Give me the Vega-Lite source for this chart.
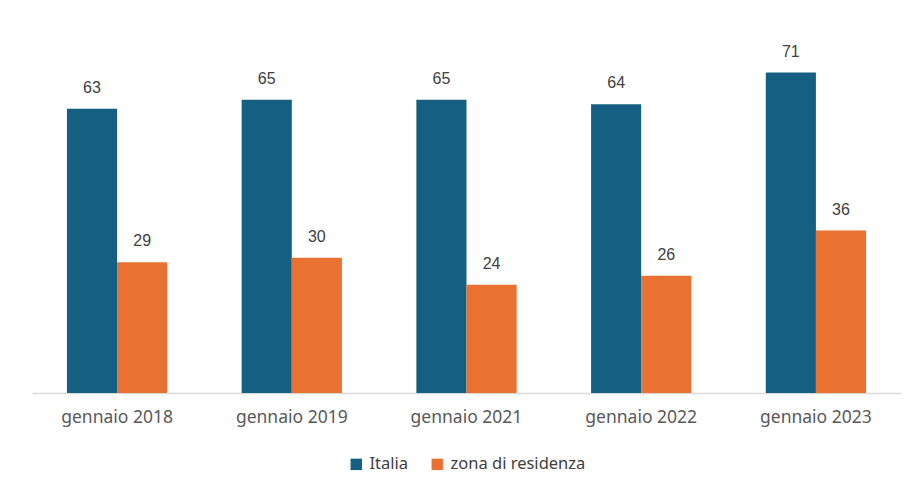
{
  "$schema": "https://vega.github.io/schema/vega-lite/v6.json",
  "autosize": {"type": "none"},
  "width": 869,
  "height": 361,
  "padding": {"left": 32, "top": 32, "right": 19, "bottom": 100},
  "background": "white",
  "data": {
    "values": [
      {"periodo": "gennaio 2018", "serie": "Italia", "valore": 63},
      {"periodo": "gennaio 2018", "serie": "zona di residenza", "valore": 29},
      {"periodo": "gennaio 2019", "serie": "Italia", "valore": 65},
      {"periodo": "gennaio 2019", "serie": "zona di residenza", "valore": 30},
      {"periodo": "gennaio 2021", "serie": "Italia", "valore": 65},
      {"periodo": "gennaio 2021", "serie": "zona di residenza", "valore": 24},
      {"periodo": "gennaio 2022", "serie": "Italia", "valore": 64},
      {"periodo": "gennaio 2022", "serie": "zona di residenza", "valore": 26},
      {"periodo": "gennaio 2023", "serie": "Italia", "valore": 71},
      {"periodo": "gennaio 2023", "serie": "zona di residenza", "valore": 36}
    ]
  },
  "encoding": {
    "x": {
      "field": "periodo",
      "type": "nominal",
      "sort": null,
      "scale": {"paddingInner": 0.426, "paddingOuter": 0.2},
      "axis": {
        "title": null,
        "labelAngle": 0,
        "ticks": false,
        "domainColor": "#d9d9d9",
        "domainWidth": 1.5,
        "labelFont": "Noto Sans",
        "labelFontSize": 17.5,
        "labelColor": "#595959",
        "labelPadding": 15
      }
    },
    "xOffset": {"field": "serie", "type": "nominal", "sort": ["Italia", "zona di residenza"]},
    "y": {
      "field": "valore",
      "type": "quantitative",
      "scale": {"domain": [0, 80], "nice": false},
      "axis": null
    }
  },
  "layer": [
    {
      "mark": {"type": "bar"},
      "encoding": {
        "color": {
          "field": "serie",
          "type": "nominal",
          "sort": ["Italia", "zona di residenza"],
          "scale": {"domain": ["Italia", "zona di residenza"], "range": ["#156082", "#E97132"]},
          "legend": {
            "title": null,
            "orient": "bottom",
            "direction": "horizontal",
            "symbolType": "square",
            "symbolSize": 130,
            "symbolStrokeWidth": 0,
            "labelFont": "Noto Sans",
            "labelFontSize": 16.5,
            "labelColor": "#404040",
            "labelOffset": 5,
            "columnPadding": 20,
            "offset": 30
          }
        }
      }
    },
    {
      "mark": {
        "type": "text",
        "baseline": "middle",
        "dy": -21,
        "font": "Liberation Sans",
        "fontSize": 16,
        "color": "#404040"
      },
      "encoding": {
        "text": {"field": "valore", "type": "quantitative"}
      }
    }
  ],
  "config": {
    "view": {"stroke": null},
    "legend": {"layout": {"bottom": {"anchor": "middle"}}}
  }
}
